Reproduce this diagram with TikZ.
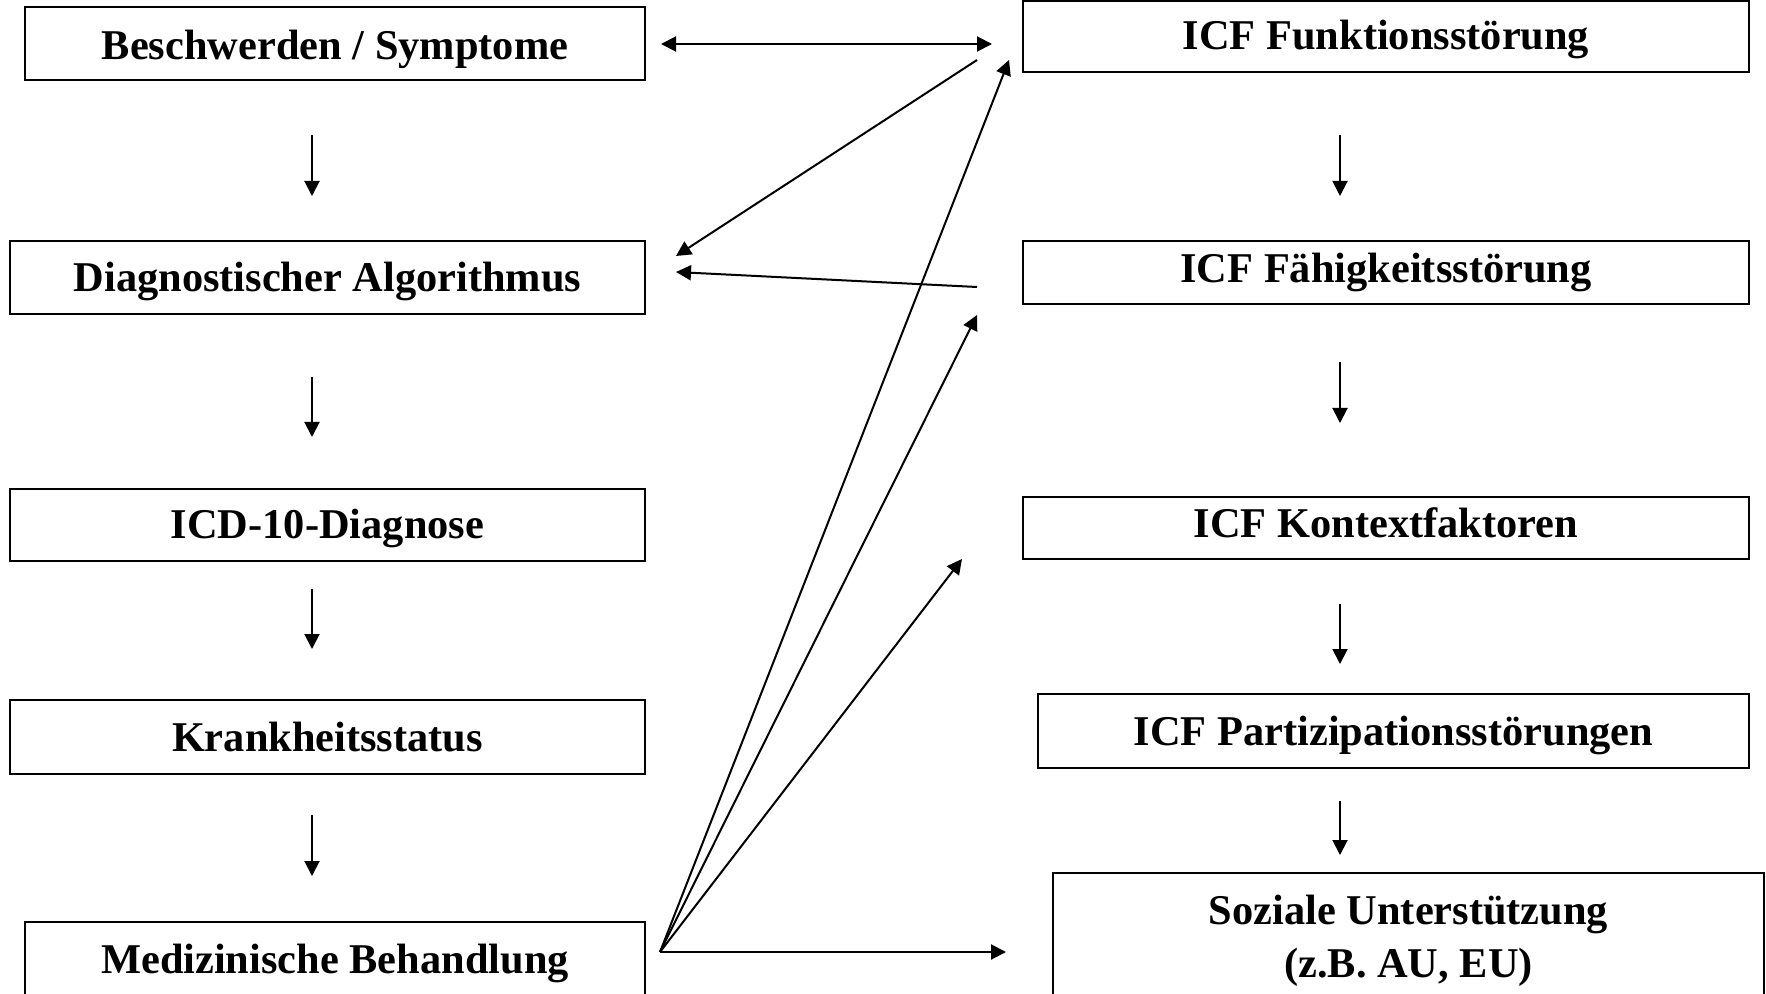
\documentclass[tikz,border=0pt]{standalone}
\usepackage{fontspec}
\setmainfont{Liberation Serif}
\usetikzlibrary{arrows.meta}
\newcommand{\shiftdown}[2]{\raisebox{-#1}[\height][\depth]{#2}}
\begin{document}
\begin{tikzpicture}[x=0.5pt,y=-0.5pt,
  box/.style={draw,line width=1.1pt,inner sep=0pt,align=center,font=\fontsize{21.2}{26.5}\selectfont\bfseries},
  arr/.style={line width=1pt,-{Triangle[length=7.5pt,width=7.5pt]}},
  darr/.style={line width=1pt,{Triangle[length=7.5pt,width=7.5pt]}-{Triangle[length=7.5pt,width=7.5pt]}},
  ]
\useasboundingbox (0,0) rectangle (1766,994);
% left column
\node[box,minimum width=310pt,minimum height=36.5pt] (a1) at (335,43.5) {\shiftdown{2.8pt}{Beschwerden / Symptome}};
\node[box,minimum width=317.5pt,minimum height=36.5pt] (a2) at (327.5,277.5) {\shiftdown{2.2pt}{Diagnostischer Algorithmus}};
\node[box,minimum width=317.5pt,minimum height=36pt] (a3) at (327.5,525) {\shiftdown{1.7pt}{ICD-10-Diagnose}};
\node[box,minimum width=317.5pt,minimum height=37pt] (a4) at (327.5,737) {Krankheitsstatus};
\node[box,minimum width=310pt,minimum height=40pt] (a5) at (335,962) {\shiftdown{0.5pt}{Medizinische Behandlung}};
% right column
\node[box,minimum width=363pt,minimum height=35.5pt] (b1) at (1386,36.5) {\shiftdown{1.7pt}{ICF Funktionsstörung}};
\node[box,minimum width=363pt,minimum height=31.5pt] (b2) at (1386,272.5) {ICF Fähigkeitsstörung};
\node[box,minimum width=363pt,minimum height=31pt] (b3) at (1386,528) {\shiftdown{-2.8pt}{ICF Kontextfaktoren}};
\node[box,minimum width=355.5pt,minimum height=37pt] (b4) at (1393.5,731) {\shiftdown{2.2pt}{ICF Partizipationsstörungen}};
\node[box,minimum width=355.5pt,minimum height=63.5pt] (b5) at (1408.5,936.5) {\shiftdown{1.7pt}{\begin{tabular}{@{}c@{}}Soziale Unterstützung\\(z.B. AU, EU)\end{tabular}}};
% vertical arrow ends
\coordinate (la1) at (312,135); \coordinate (la2) at (312,196);
\coordinate (lb1) at (312,377); \coordinate (lb2) at (312,437);
\coordinate (lc1) at (312,589); \coordinate (lc2) at (312,649);
\coordinate (ld1) at (312,815); \coordinate (ld2) at (312,876);
\coordinate (ra1) at (1340,135); \coordinate (ra2) at (1340,196);
\coordinate (rb1) at (1340,362); \coordinate (rb2) at (1340,423);
\coordinate (rc1) at (1340,604); \coordinate (rc2) at (1340,664);
\coordinate (rd1) at (1340,801); \coordinate (rd2) at (1340,855);
\foreach \p in {la,lb,lc,ld,ra,rb,rc,rd} \draw[arr] (\p1) -- (\p2);
% cross connectors
\coordinate (d1) at (661,44); \coordinate (d2) at (992,44);
\draw[darr] (d1) -- (d2);
\coordinate (e1) at (977,60); \coordinate (e2) at (676,256);
\draw[arr] (e1) -- (e2);
\coordinate (f1) at (977,287); \coordinate (f2) at (676,272);
\draw[arr] (f1) -- (f2);
\coordinate (o) at (660,952);
\coordinate (g1) at (1009,60);
\coordinate (g2) at (977,315);
\coordinate (g3) at (962,559);
\coordinate (g4) at (1006,952);
\draw[arr] (o) -- (g1);
\draw[arr] (o) -- (g2);
\draw[arr] (o) -- (g3);
\draw[arr] (o) -- (g4);
\end{tikzpicture}
\end{document}
